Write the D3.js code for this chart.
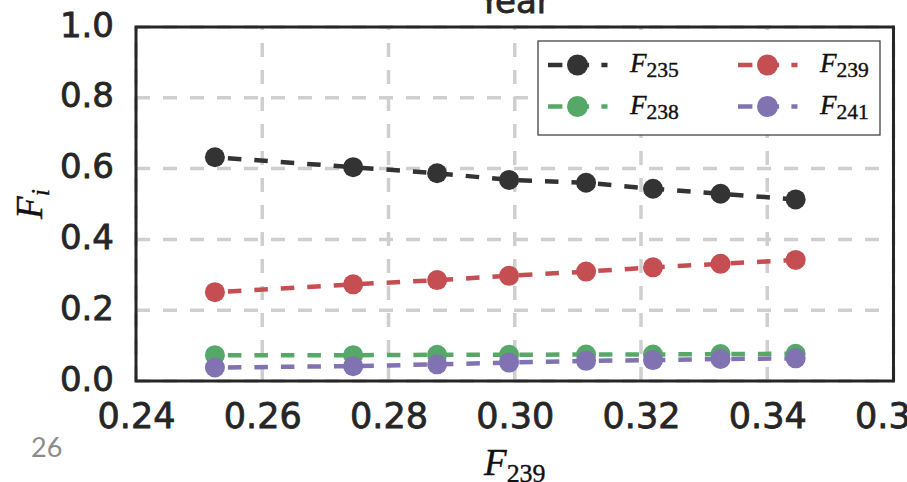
<!DOCTYPE html>
<html>
<head>
<meta charset="utf-8">
<script src="https://cdn.jsdelivr.net/npm/d3@7"></script>
<style>
  html, body { margin: 0; padding: 0; background: #fff; }
  svg { display: block; }
</style>
</head>
<body>
<svg id="chart" width="907" height="482"></svg>
<script>
// Fraction of fissions from Pu-239 on the x axis, fission fractions per isotope on y
const f239Axis = [0.2525, 0.2744, 0.2877, 0.2991, 0.3113, 0.3219, 0.3326, 0.3445];
const f235 = [0.632, 0.604, 0.587, 0.568, 0.560, 0.543, 0.529, 0.513];
const f238 = [0.073, 0.073, 0.074, 0.074, 0.075, 0.075, 0.076, 0.077];
const f239 = [0.251, 0.273, 0.285, 0.297, 0.309, 0.321, 0.331, 0.342];
const f241 = [0.038, 0.042, 0.047, 0.052, 0.057, 0.059, 0.062, 0.064];

const seriesNames = ["235", "238", "239", "241"];
const seriesColors = ["#333333", "#55A868", "#C44E52", "#8172B2"];
const xTickValues = [0.24, 0.26, 0.28, 0.30, 0.32, 0.34, 0.36];
const yTickValues = [0.0, 0.2, 0.4, 0.6, 0.8, 1.0];

const series = [f235, f238, f239, f241].map((vals, i) => ({
  name: seriesNames[i],
  color: seriesColors[i],
  points: vals.map((v, j) => ({ x: f239Axis[j], y: v }))
}));

const svg = d3.select("#chart");
const plotLeft = 136, plotRight = 893.5, plotTop = 27, plotBottom = 381;

const x = d3.scaleLinear().domain([0.24, 0.36]).range([plotLeft, plotRight]);
const y = d3.scaleLinear().domain([0, 1]).range([plotBottom, plotTop]);

const gridColor = "#cfcfcf";
const textColor = "#262626";

// grid
const grid = svg.append("g");
grid.selectAll("line.hg").data(yTickValues).join("line")
  .attr("class", "hg")
  .attr("x1", plotLeft).attr("x2", plotRight)
  .attr("y1", d => y(d)).attr("y2", d => y(d))
  .attr("stroke", gridColor).attr("stroke-width", 3.5)
  .attr("stroke-dasharray", "14 13");
grid.selectAll("line.vg").data(xTickValues).join("line")
  .attr("class", "vg")
  .attr("y1", plotBottom).attr("y2", plotTop)
  .attr("x1", d => x(d)).attr("x2", d => x(d))
  .attr("stroke", gridColor).attr("stroke-width", 3.5)
  .attr("stroke-dasharray", "14 13");

// axes labels via d3 axes (no tick marks, no domain line)
const yAxis = d3.axisLeft(y).tickValues(yTickValues).tickSize(0).tickPadding(22)
  .tickFormat(d3.format(".1f"));
const gy = svg.append("g").attr("transform", `translate(${plotLeft},0)`).call(yAxis);
gy.select(".domain").remove();
gy.selectAll("text").attr("font-family", "DejaVu Sans").attr("font-size", 34)
  .attr("fill", textColor).attr("stroke", textColor).attr("stroke-width", 0.8)
  .attr("dy", "0.27em");

const xAxis = d3.axisBottom(x).tickValues(xTickValues).tickSize(0).tickPadding(22)
  .tickFormat(d3.format(".2f"));
const gx = svg.append("g").attr("transform", `translate(0,${plotBottom})`).call(xAxis);
gx.select(".domain").remove();
gx.selectAll("text").attr("font-family", "DejaVu Sans").attr("font-size", 35)
  .attr("fill", textColor).attr("stroke", textColor).attr("stroke-width", 0.8)
  .attr("dy", "0.71em");

// series lines and markers
const line = d3.line().x(d => x(d.x)).y(d => y(d.y));
series.forEach(s => {
  const g = svg.append("g");
  g.append("path").datum(s.points)
    .attr("d", line).attr("fill", "none")
    .attr("stroke", s.color).attr("stroke-width", 4.5)
    .attr("stroke-dasharray", "13.5 13").attr("stroke-dashoffset", 13.5);
  g.selectAll("circle").data(s.points).join("circle")
    .attr("cx", d => x(d.x)).attr("cy", d => y(d.y)).attr("r", 10)
    .attr("fill", s.color);
});

// frame
svg.append("rect")
  .attr("x", plotLeft).attr("y", plotTop)
  .attr("width", plotRight - plotLeft).attr("height", plotBottom - plotTop)
  .attr("fill", "none").attr("stroke", textColor).attr("stroke-width", 3);

// title
svg.append("text").attr("x", (plotLeft + plotRight) / 2).attr("y", 13)
  .attr("text-anchor", "middle").attr("font-family", "DejaVu Sans")
  .attr("font-size", 34).attr("fill", textColor)
  .attr("stroke", textColor).attr("stroke-width", 0.8).text("Year");

// math-style label helper: italic F with upright subscript
function mathLabel(sel, main, sub, size, subScale, subItalic) {
  sel.attr("font-family", "Liberation Serif").attr("fill", "#111")
    .attr("stroke", "#111").attr("stroke-width", 0.4);
  sel.append("tspan").attr("font-style", "italic").attr("font-size", size).text(main);
  sel.append("tspan").attr("font-size", size * subScale)
    .attr("font-style", subItalic ? "italic" : "normal")
    .attr("dy", size * 0.2).text(sub);
}

// x label
mathLabel(svg.append("text").attr("x", (plotLeft + plotRight) / 2).attr("y", 475)
  .attr("text-anchor", "middle"), "F", "239", 37, 0.7, false);

// y label
mathLabel(svg.append("text")
  .attr("transform", `translate(42,${(plotTop + plotBottom) / 2}) rotate(-90)`)
  .attr("text-anchor", "middle"), "F", "i", 37, 0.7, true);

// legend
const lg = svg.append("g");
lg.append("rect").attr("x", 538).attr("y", 41)
  .attr("width", 342).attr("height", 94)
  .attr("fill", "#fff").attr("stroke", "#444").attr("stroke-width", 1.3);
const colX = [548, 738], rowY = [65, 106.5];
series.forEach((s, i) => {
  const cx = colX[Math.floor(i / 2)], cy = rowY[i % 2];
  lg.append("line").attr("x1", cx).attr("x2", cx + 59.5)
    .attr("y1", cy).attr("y2", cy)
    .attr("stroke", s.color).attr("stroke-width", 4.5)
    .attr("stroke-dasharray", "14.4 12.3");
  lg.append("circle").attr("cx", cx + 29.5).attr("cy", cy).attr("r", 10.5)
    .attr("fill", s.color);
  mathLabel(lg.append("text").attr("x", cx + 82).attr("y", cy + 7),
    "F", s.name, 27, 0.8, false);
});

// page number
svg.append("text").attr("x", 31).attr("y", 457)
  .attr("font-family", "Lato").attr("font-size", 27)
  .attr("fill", "#8c8c8c").text("26");
</script>
</body>
</html>
